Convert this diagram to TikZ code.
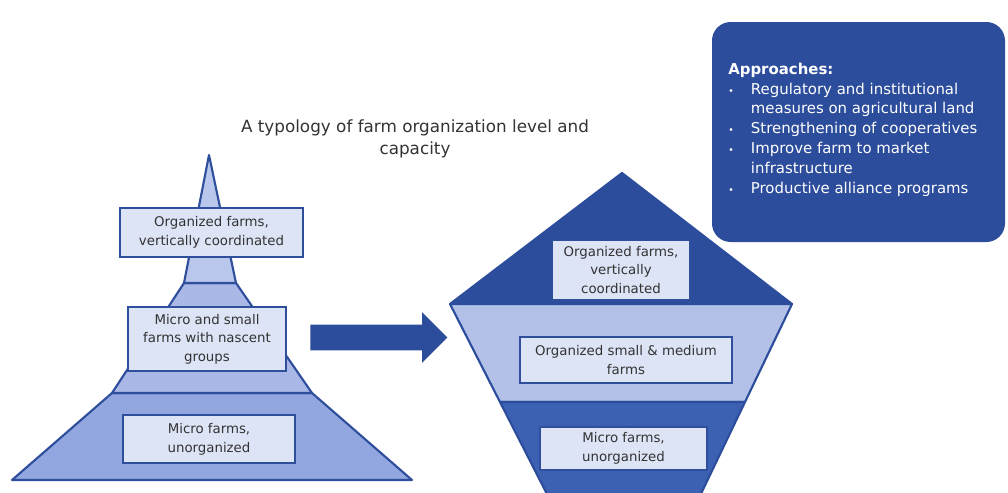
\documentclass[tikz,border=0pt]{standalone}
\usepackage{fontspec}
\setmainfont{DejaVu Sans}
\usetikzlibrary{shapes.arrows}

\definecolor{edgeblue}{RGB}{47,79,157}
\definecolor{navy}{RGB}{44,76,156}
\definecolor{boxfill}{RGB}{221,228,246}
\definecolor{pyrlight}{RGB}{186,199,236}
\definecolor{pyrmid}{RGB}{169,184,230}
\definecolor{pyrdark}{RGB}{146,166,223}
\definecolor{pentmid}{RGB}{179,193,233}
\definecolor{pentlow}{RGB}{61,97,178}
\definecolor{textgray}{RGB}{51,51,51}

\begin{document}
\begin{tikzpicture}[x=0.75pt,y=0.75pt,yscale=-1,xscale=1,
  layer/.style={draw=edgeblue, line width=1.6pt, line join=round},
  farmbox/.style={draw=edgeblue, line width=1.6pt, fill=boxfill, text=textgray,
    align=center, inner sep=0pt, font=\fontsize{10}{14}\selectfont},
  shiftarrow/.style={single arrow, fill=navy, draw=none,
    inner xsep=0pt, inner ysep=9.375pt, minimum height=102.75pt,
    single arrow head extend=9.4pt, single arrow head indent=0pt},
  approachbox/.style={fill=navy, draw=none, rounded corners=14pt,
    minimum width=219.75pt, minimum height=165pt},
  approachtext/.style={text=white, inner sep=0pt, align=left,
    font=\fontsize{11.2}{14.9}\selectfont}]
\useasboundingbox (0,0) rectangle (1008,493);
\clip (0,0) rectangle (1008,493);

% Title
\node [text=textgray, align=center, font=\fontsize{12.6}{16.5}\selectfont] (title) at (415,139)
  {A typology of farm organization level and\\capacity};

%Shape: left pyramid, bottom layer
\draw [layer, fill=pyrdark] (112,393) -- (312,393) -- (412,480) -- (12,480) -- cycle ;
%Shape: left pyramid, middle layer
\draw [layer, fill=pyrmid] (184,283) -- (236,283) -- (312,393) -- (112,393) -- cycle ;
%Shape: left pyramid, spike
\draw [layer, fill=pyrlight] (209,155) -- (236,283) -- (184,283) -- cycle ;

% Left pyramid boxes
\node [farmbox, minimum width=137.25pt, minimum height=36.75pt] (leftTop) at (211.5,232.5)
  {Organized farms,\\vertically coordinated};
\node [farmbox, minimum width=118.5pt, minimum height=48pt] (leftMid) at (207,339)
  {Micro and small\\farms with nascent\\groups};
\node [farmbox, minimum width=129pt, minimum height=36pt] (leftLow) at (209,439)
  {Micro farms,\\unorganized};

% Block arrow
\node [shiftarrow] (shift) at (372.5,337.5) {};

%Shape: right pentagon, roof
\draw [layer, draw=navy, fill=navy] (622,173) -- (792,304) -- (450,304) -- cycle ;
%Shape: right pentagon, middle band
\draw [layer, draw=navy, fill=pentmid] (450,304) -- (792,304) -- (745,402) -- (500,402) -- cycle ;
%Shape: right pentagon, lower band
\draw [layer, draw=navy, fill=pentlow] (500,402) -- (745,402) -- (698,500) -- (550,500) -- cycle ;

% Right pentagon boxes
\node [farmbox, minimum width=103.5pt, minimum height=45pt] (rightTop) at (621,270)
  {Organized farms,\\vertically\\coordinated};
\node [farmbox, minimum width=159pt, minimum height=34.5pt] (rightMid) at (626,360)
  {Organized small \& medium\\farms};
\node [farmbox, minimum width=125.25pt, minimum height=32.25pt] (rightLow) at (623.5,448.5)
  {Micro farms,\\unorganized};

% Approaches panel
\node [approachbox] (approach) at (858.5,132) {};
\node [approachtext, anchor=north west] (approachList) at (728,60) {%
  \begin{tabular}{@{}p{17pt}@{}l@{}}
  \multicolumn{2}{@{}l@{}}{\textbf{Approaches:}}\\
  {\scriptsize\textbullet} & Regulatory and institutional\\
   & measures on agricultural land\\
  {\scriptsize\textbullet} & Strengthening of cooperatives\\
  {\scriptsize\textbullet} & Improve farm to market\\
   & infrastructure\\
  {\scriptsize\textbullet} & Productive alliance programs
  \end{tabular}};

\end{tikzpicture}
\end{document}
